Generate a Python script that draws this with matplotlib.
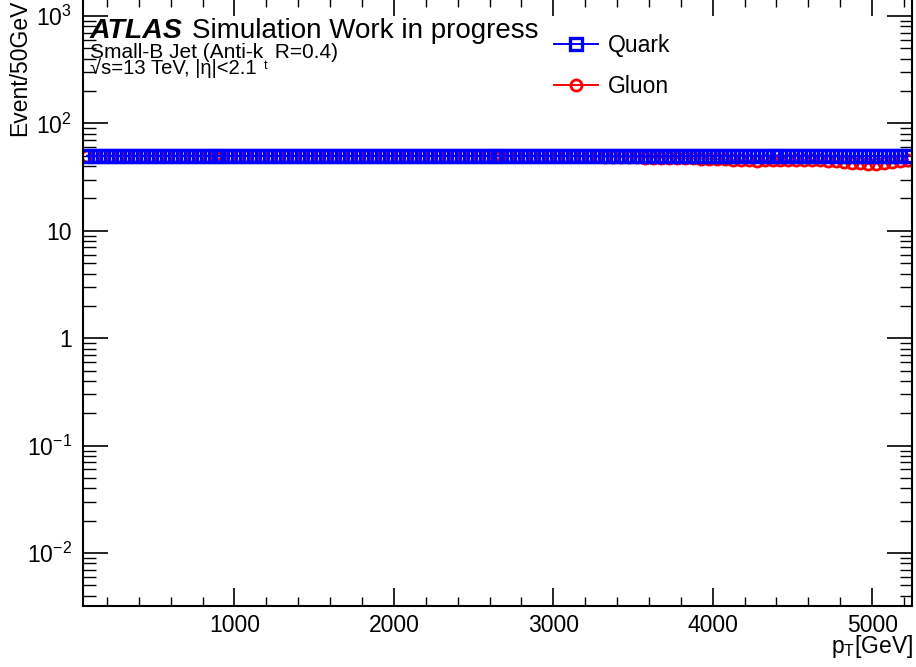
import numpy as np
import matplotlib
matplotlib.use("Agg")
import matplotlib.pyplot as plt
from matplotlib.ticker import FixedLocator, FixedFormatter, MultipleLocator, LogLocator, NullFormatter

plt.rcParams['font.family'] = ['Liberation Sans', 'DejaVu Sans']
plt.rcParams['mathtext.fontset'] = 'custom'
plt.rcParams['mathtext.rm'] = 'Liberation Sans'
plt.rcParams['mathtext.it'] = 'Liberation Sans:italic'
plt.rcParams['mathtext.bf'] = 'Liberation Sans:bold'

# 50 GeV bins from 50 to 5250 GeV
bin_edges = np.arange(50, 5251, 50)
bin_centers = 0.5 * (bin_edges[:-1] + bin_edges[1:])

quark = [
    50, 50, 50, 50, 50, 50, 50, 50, 50, 50, 50, 50, 50,
    50, 50, 50, 50, 50, 50, 50, 50, 50, 50, 50, 50, 50,
    50, 50, 50, 50, 50, 50, 50, 50, 50, 50, 50, 50, 50,
    50, 50, 50, 50, 50, 50, 50, 50, 50, 50, 50, 50, 50,
    50, 50, 50, 50, 50, 50, 50, 50, 50, 50, 50, 50, 50,
    50, 50, 50, 50, 50, 50, 50, 50, 50, 50, 50, 50, 50,
    50, 50, 50, 50, 50, 50, 50, 50, 50, 50, 50, 50, 50,
    50, 50, 50, 50, 50, 50, 50, 50, 50, 50, 50, 50, 50,
]
gluon = [
    50, 50, 50, 50, 50, 50, 50, 50, 50, 50, 50, 50, 50,
    50, 50, 50, 50, 50, 50, 50, 50, 50, 50, 50, 50, 50,
    50, 50, 50, 50, 50, 50, 50, 50, 50, 50, 50, 50, 50,
    50, 50, 50, 50, 50, 50, 50, 50, 50, 50, 50, 50, 50,
    50, 50, 50, 50, 50, 50, 50, 50, 49.9, 49.8, 49.6, 49.4, 49.2,
    49.0, 48.8, 48.6, 48.5, 48.3, 48.1, 47.9, 47.8, 47.6, 47.5, 47.3, 47.2, 47.0,
    46.8, 46.5, 46.2, 45.8, 45.5, 45.2, 45.0, 45.3, 45.6, 45.8, 45.6, 45.8, 46.0,
    45.6, 45.2, 45.0, 44.6, 44.0, 43.2, 42.5, 42.0, 42.3, 43.0, 44.0, 45.0, 45.8,
]

y_ticks = [1e-2, 1e-1, 1, 10, 1e2, 1e3]
y_tick_labels = [r'$10^{-2}$', r'$10^{-1}$', '1', '10', r'$10^{2}$', r'$10^{3}$']

W, H = 916, 667
fig = plt.figure(figsize=(W / 100, H / 100), dpi=100)
ax = fig.add_axes([83 / W, 1 - 606 / H, (912 - 83) / W, (606 + 2) / H])

ax.plot(bin_centers, gluon, color='red', marker='o', ms=8, mfc='none', mew=2.0, lw=1.4, label='Gluon')
ax.plot(bin_centers, quark, color='blue', marker='s', ms=8.5, mfc='none', mew=2.4, lw=1.4, label='Quark')

ax.set_yscale('log')
ax.set_xlim(50, 5250)
ax.set_ylim(0.00321, 1471)

ax.xaxis.set_major_locator(MultipleLocator(1000))
ax.xaxis.set_minor_locator(MultipleLocator(200))
ax.yaxis.set_major_locator(FixedLocator(y_ticks))
ax.yaxis.set_major_formatter(FixedFormatter(y_tick_labels))
ax.yaxis.set_minor_locator(LogLocator(base=10, subs=np.arange(2, 10)))
ax.yaxis.set_minor_formatter(NullFormatter())

ax.tick_params(axis='both', which='both', direction='in', top=True, right=True, labelsize=16.5)
ax.tick_params(axis='y', which='major', length=18, width=1.2, pad=8)
ax.tick_params(axis='y', which='minor', length=9, width=1.0)
ax.tick_params(axis='x', which='major', length=13, width=1.2, pad=6)
ax.tick_params(axis='x', which='minor', length=6.5, width=1.0)
for s in ax.spines.values():
    s.set_linewidth(1.5)

fig.text(20 / W, 1.0, 'Event/50GeV', rotation=90, ha='center', va='top', fontsize=16.5)
fig.text(913 / W, 1 - 646 / H, r'$\mathrm{p}_{\mathrm{T}}$[GeV]', ha='right', va='center', fontsize=16.5)

fig.text(90 / W, 1 - 31 / H, 'ATLAS', fontsize=20.5, fontweight='bold', fontstyle='italic', va='center')
fig.text(192 / W, 1 - 31 / H, 'Simulation Work in progress', fontsize=20, va='center')
fig.text(90 / W, 1 - 52 / H, 'Small-B Jet (Anti-k  R=0.4)', fontsize=15, va='center')
fig.text(90 / W, 1 - 68 / H, '\u221as=13 TeV, |\u03b7|<2.1', fontsize=14.6, va='center')
fig.text(264 / W, 1 - 66 / H, 't', fontsize=9, va='center')

handles, labels = ax.get_legend_handles_labels()
ax.legend(handles[::-1], labels[::-1], loc='upper left', bbox_to_anchor=(554 / W, 1 - 34 / H),
          bbox_transform=fig.transFigure, frameon=False, fontsize=16.5, borderpad=0,
          borderaxespad=0, handlelength=1.9, handletextpad=0.45, labelspacing=0.8)

fig.savefig('out.png', dpi=100)
